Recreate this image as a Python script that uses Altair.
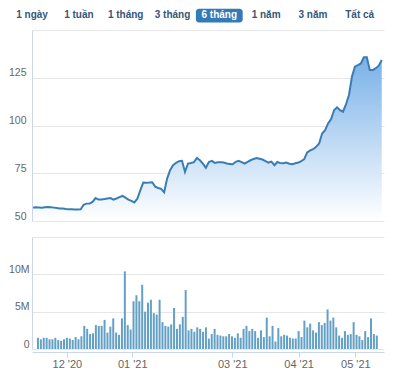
import json
import altair as alt
import pandas as pd

# ---------------- data ----------------
BUTTONS = ["1 ngày", "1 tuần", "1 tháng", "3 tháng", "6 tháng", "1 năm", "3 năm", "Tất cả"]
SELECTED = "6 tháng"

PRICE = [
    57.0, 57.2, 57.1, 57.0, 57.2, 57.3, 57.2, 57.0, 56.8, 56.6, 56.5, 56.3, 56.2, 56.1, 56.0, 56.0, 56.1,
    58.5, 59.1, 59.2, 60.0, 62.0,
    61.2, 61.3, 61.5, 61.8, 62.0, 61.2, 61.8, 62.5, 63.1, 62.2, 61.2, 60.5, 59.7, 61.6,
    66.0, 70.1, 70.0, 70.1, 70.3, 68.0, 67.3, 66.8, 65.0,
    72.2, 76.6, 79.2, 80.5, 81.3, 81.5, 75.7, 80.1, 80.4, 80.8, 83.0, 81.8, 80.0, 77.8, 80.9, 81.5,
    80.4, 80.8, 80.8, 80.6, 80.1, 79.9, 79.7, 81.0, 81.5, 80.8, 80.1, 81.0, 81.8, 82.5, 83.0, 82.6,
    82.2, 81.4, 80.6, 81.1, 79.2, 80.9, 80.3, 80.2,
    80.6, 80.0, 79.7, 80.2, 80.6, 81.3, 82.4, 85.9, 87.0, 87.6, 88.8, 90.6, 95.8, 97.6, 101.1, 103.3,
    108.0, 109.5, 108.0, 107.2, 111.0, 115.9, 125.5, 130.8, 131.6, 132.5, 135.7, 135.7, 129.0, 129.0,
    130.0, 131.3, 134.3,
]

VOLUME_M = [
    1.5, 1.3, 1.5, 1.5, 1.3, 1.3, 1.5, 1.2, 1.1, 1.3, 1.5, 1.4, 1.2, 1.6, 1.3, 1.7, 3.1, 2.7, 2.0, 2.1,
    3.2, 3.1, 3.1, 3.9, 2.2, 3.0, 4.1, 2.2, 1.9, 4.1, 10.4,
    3.2, 2.6, 6.4, 7.2, 6.4, 8.6, 5.0, 6.2, 6.6, 4.8, 4.6, 6.6, 3.6, 3.1, 3.0, 3.3, 5.5, 2.7, 3.3, 4.3,
    7.9, 2.5, 2.7, 2.3, 2.9, 2.7, 2.3, 2.9, 1.4, 2.0,
    2.7, 1.9, 1.8, 1.7, 1.7, 2.0, 1.7, 1.5, 2.1, 1.5, 2.7, 3.1, 2.4, 2.7, 2.4, 1.5, 2.5, 1.6, 4.2, 1.7,
    3.1, 1.0, 2.8, 1.7, 1.9, 1.8, 1.5, 1.4, 1.4, 2.4, 1.6, 3.8, 2.9, 3.4, 2.5, 2.2, 3.6, 3.2, 3.5, 5.3,
    3.8, 4.2, 2.9, 1.8, 1.5, 2.4, 1.9, 2.0, 3.6, 1.9, 1.7, 1.2, 2.4, 1.6, 4.1, 2.0, 1.8,
]

X_TICKS = [9.97, 32.56, 67.1, 90.0, 109.6]
X_LABELS = ["12 '20", "01 '21", "03 '21", "04 '21", "05 '21"]
PRICE_TICKS = [50, 75, 100, 125, 150]
VOLUME_TICKS = [0, 5, 10, 15]

# ---------------- styling ----------------
FONT = "Liberation Sans"
LABEL_COLOR = "#666666"
GRID = "#e6e6e6"
AXIS_LINE = "#ccd6eb"
LINE_COLOR = "#3a7db3"
BAR_COLOR = "#64a0c5"
PLOT_W = 352

df = pd.DataFrame({"idx": list(range(len(PRICE))), "price": PRICE, "vol": VOLUME_M})

xscale = alt.Scale(domain=[-0.33, 117.76], nice=False, zero=False)

# ---- range-selector buttons (drawn above the price panel) ----
bdf = pd.DataFrame({
    "label": BUTTONS,
    "slot": list(range(len(BUTTONS))),
    "sel": [b == SELECTED for b in BUTTONS],
})
bscale = alt.Scale(domain=[0, 7], range=[0.1, 327.7], nice=False, zero=False)

brect = alt.Chart(bdf).transform_filter("datum.sel").transform_calculate(
    s0="datum.slot - 0.5", s1="datum.slot + 0.5"
).mark_rect(color="#337ab7", cornerRadius=3, clip=False).encode(
    x=alt.X("s0:Q", scale=bscale, axis=None),
    x2="s1:Q",
    y=alt.value(-21.3),
    y2=alt.value(-7.5),
)
btext = alt.Chart(bdf).mark_text(
    font=FONT, fontSize=10, fontWeight="bold", baseline="middle", align="center", clip=False
).encode(
    x=alt.X("slot:Q", scale=bscale, axis=None),
    y=alt.value(-14.8),
    text="label:N",
    color=alt.condition("datum.sel", alt.value("#ffffff"), alt.value("#34567a")),
)

# ---- price panel ----
price_y_axis = alt.Axis(
    values=PRICE_TICKS, title=None, grid=True, gridColor=GRID, ticks=False, tickSize=0,
    domain=True, domainColor=AXIS_LINE, labelPadding=6, labelFontSize=10.5, labelColor=LABEL_COLOR,
    labelFont=FONT, labelBaseline="alphabetic", labelOffset=-2,
    labelExpr="datum.value >= 150 ? '' : datum.label",
)
pbase = alt.Chart(df).encode(x=alt.X("idx:Q", scale=xscale, axis=None))
area = pbase.mark_area(
    color=alt.Gradient(
        gradient="linear",
        stops=[alt.GradientStop(color="#ffffff", offset=0), alt.GradientStop(color="#79b1e8", offset=1)],
        x1=1, x2=1, y1=1, y2=0,
    )
).encode(
    y=alt.Y("price:Q", scale=alt.Scale(domain=[50, 150], nice=False, zero=False), axis=price_y_axis),
    y2=alt.datum(50),
)
line = pbase.mark_line(color=LINE_COLOR, strokeWidth=2).encode(y="price:Q")
price = alt.layer(area, line, brect, btext).resolve_scale(x="independent").properties(
    width=PLOT_W, height=191
)

# ---- volume panel ----
x_label_expr = f"{json.dumps(X_LABELS)}[indexof({json.dumps(X_TICKS)}, datum.value)]"
vol = alt.Chart(df).mark_bar(width=2, color=BAR_COLOR).encode(
    x=alt.X(
        "idx:Q", scale=xscale,
        axis=alt.Axis(
            values=X_TICKS, labelExpr=x_label_expr, title=None, grid=False,
            domainColor=AXIS_LINE, tickColor=AXIS_LINE, tickSize=5, offset=3,
            labelPadding=1, labelFontSize=11, labelColor=LABEL_COLOR, labelFont=FONT,
            labelFlush=False, labelOverlap=False,
        ),
    ),
    y=alt.Y(
        "vol:Q", scale=alt.Scale(domain=[0, 15], nice=False),
        axis=alt.Axis(
            values=VOLUME_TICKS, title=None, grid=True, gridColor=GRID, ticks=False, tickSize=0,
            domain=True, domainColor=AXIS_LINE, labelPadding=3, labelFontSize=10.5,
            labelColor=LABEL_COLOR, labelFont=FONT, labelBaseline="alphabetic", labelOffset=-2,
            labelExpr="datum.value == 0 ? '0' : (datum.value >= 15 ? '' : datum.value + 'M')",
        ),
    ),
).properties(width=PLOT_W, height=112)

chart = alt.vconcat(price, vol, spacing=15).properties(padding=0).configure(
    font=FONT, view=alt.ViewConfig(strokeWidth=0)
)

chart.save("out.html", embed_options={"renderer": "svg", "actions": False})
